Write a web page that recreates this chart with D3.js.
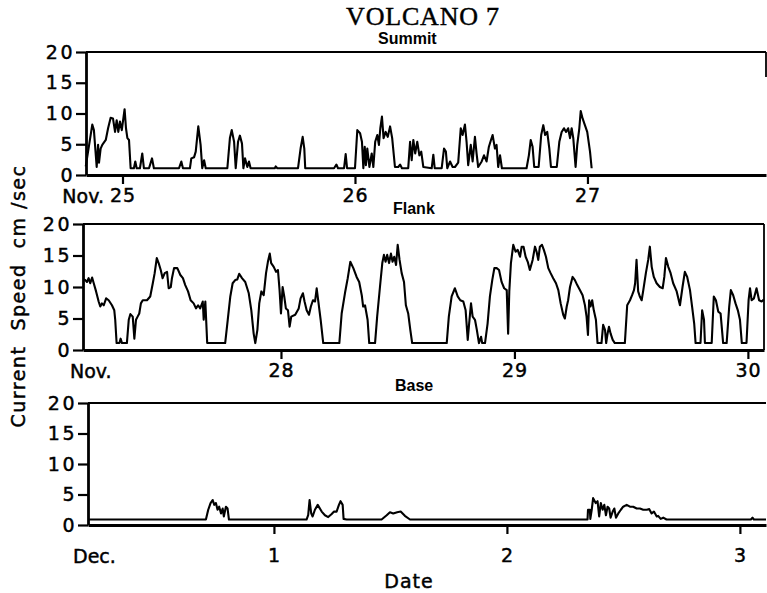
<!DOCTYPE html>
<html><head><meta charset="utf-8">
<script src="https://cdn.jsdelivr.net/npm/d3@7"></script>
<style>body{margin:0;background:#fff} svg{display:block}</style>
</head><body>
<svg id="c" width="767" height="593"></svg>
<script>
// Day of month (fractional) vs current speed (cm/sec)
const summit = [[24.842,1.4],[24.870,8.2],[24.877,7.3],[24.889,1.3],[24.895,4.9],[24.899,2.0],[24.906,4.3],[24.913,4.9],[24.928,5.7],[24.938,7.6],[24.949,9.3],[24.959,9.2],[24.968,7.0],[24.975,8.9],[24.982,7.0],[24.989,8.7],[24.997,7.3],[25.009,10.7],[25.015,7.6],[25.021,6.0],[25.028,5.7],[25.035,1.1],[25.049,1.1],[25.055,2.2],[25.061,1.1],[25.075,1.1],[25.085,3.5],[25.092,1.1],[25.114,1.1],[25.127,2.7],[25.135,1.1],[25.243,1.1],[25.253,2.2],[25.260,1.1],[25.290,1.1],[25.296,2.7],[25.308,2.9],[25.315,3.8],[25.326,7.9],[25.336,4.9],[25.343,1.1],[25.351,2.4],[25.358,1.1],[25.451,1.1],[25.462,6.0],[25.470,7.3],[25.480,5.4],[25.487,1.1],[25.497,5.4],[25.505,6.4],[25.514,5.1],[25.520,1.1],[25.527,2.7],[25.537,1.3],[25.544,2.2],[25.551,1.1],[25.655,1.1],[25.659,1.4],[25.666,1.1],[25.755,1.1],[25.766,4.3],[25.775,6.2],[25.782,4.3],[25.786,1.1],[25.910,1.1],[25.920,1.7],[25.927,1.1],[25.953,1.1],[25.960,3.4],[25.966,1.1],[26.000,1.1],[26.010,7.3],[26.022,6.8],[26.030,5.4],[26.036,1.1],[26.042,4.6],[26.047,1.6],[26.053,4.3],[26.062,1.3],[26.072,3.5],[26.079,1.3],[26.087,5.4],[26.096,6.5],[26.103,4.9],[26.109,7.6],[26.116,9.5],[26.123,6.0],[26.132,7.0],[26.141,6.2],[26.151,7.9],[26.160,6.0],[26.172,1.3],[26.186,1.3],[26.194,1.7],[26.202,1.1],[26.229,1.1],[26.237,5.4],[26.244,2.4],[26.251,5.7],[26.259,3.5],[26.268,5.4],[26.277,3.2],[26.285,3.8],[26.294,1.3],[26.330,1.1],[26.337,3.3],[26.343,1.1],[26.373,1.1],[26.383,4.3],[26.391,3.8],[26.397,1.1],[26.409,2.2],[26.420,1.3],[26.430,1.3],[26.444,2.0],[26.455,7.6],[26.463,6.5],[26.473,8.2],[26.480,5.4],[26.487,1.6],[26.498,4.9],[26.506,2.2],[26.516,6.2],[26.523,3.5],[26.530,1.3],[26.545,2.2],[26.555,3.2],[26.566,2.2],[26.576,4.6],[26.585,5.7],[26.592,6.5],[26.602,4.3],[26.609,4.9],[26.616,1.3],[26.624,3.2],[26.632,1.1],[26.738,1.1],[26.748,3.2],[26.756,5.7],[26.764,4.6],[26.771,1.3],[26.790,1.3],[26.801,6.5],[26.810,8.1],[26.818,6.5],[26.827,7.0],[26.836,4.3],[26.843,1.3],[26.868,1.3],[26.879,5.4],[26.889,7.0],[26.899,7.6],[26.908,7.0],[26.917,7.6],[26.925,6.0],[26.932,7.6],[26.939,6.0],[26.949,1.3],[26.956,4.9],[26.965,7.6],[26.971,10.4],[26.979,9.2],[26.989,8.1],[26.999,7.0],[27.011,3.8],[27.018,1.1]];

const flank = [[27.153,11.2],[27.162,11.1],[27.169,10.8],[27.176,11.4],[27.183,10.6],[27.191,11.5],[27.198,10.6],[27.208,9.3],[27.219,7.7],[27.226,6.9],[27.233,7.4],[27.241,7.1],[27.251,8.2],[27.262,7.9],[27.276,7.1],[27.286,6.3],[27.290,4.8],[27.296,1.1],[27.308,1.1],[27.313,1.8],[27.319,1.1],[27.340,1.1],[27.348,4.8],[27.355,5.7],[27.365,5.3],[27.372,1.8],[27.379,4.8],[27.386,5.3],[27.393,5.8],[27.400,7.4],[27.408,7.9],[27.426,7.9],[27.440,8.5],[27.451,10.6],[27.459,12.2],[27.468,14.6],[27.476,13.8],[27.485,12.7],[27.493,11.4],[27.502,12.2],[27.512,12.4],[27.519,9.8],[27.528,10.0],[27.533,11.4],[27.542,13.0],[27.556,13.0],[27.569,11.9],[27.580,11.4],[27.590,10.3],[27.602,9.3],[27.613,7.9],[27.626,7.4],[27.636,6.6],[27.645,7.1],[27.654,6.6],[27.665,7.7],[27.669,4.8],[27.676,7.7],[27.684,1.1],[27.761,1.1],[27.772,4.8],[27.783,8.5],[27.793,10.6],[27.804,11.1],[27.813,11.2],[27.821,12.1],[27.833,11.4],[27.847,10.8],[27.862,9.0],[27.873,6.3],[27.883,2.6],[27.890,1.1],[27.899,3.2],[27.907,7.4],[27.916,9.3],[27.926,8.7],[27.936,12.2],[27.944,14.0],[27.952,15.3],[27.958,13.8],[27.969,13.2],[27.979,12.4],[27.987,12.7],[27.994,9.5],[28.000,5.8],[28.007,10.0],[28.014,8.5],[28.021,6.6],[28.030,6.3],[28.037,3.7],[28.044,5.3],[28.061,5.6],[28.076,6.6],[28.084,8.2],[28.094,9.0],[28.101,7.7],[28.110,6.3],[28.120,5.6],[28.128,6.9],[28.137,7.9],[28.146,7.7],[28.153,9.8],[28.160,7.7],[28.170,4.8],[28.181,1.1],[28.250,1.1],[28.260,5.8],[28.274,9.0],[28.286,11.4],[28.297,14.0],[28.310,13.0],[28.324,11.6],[28.335,10.8],[28.346,8.7],[28.352,6.9],[28.360,7.1],[28.371,4.8],[28.378,1.1],[28.403,1.1],[28.412,5.3],[28.424,10.0],[28.434,13.8],[28.441,15.1],[28.448,14.0],[28.455,15.1],[28.463,13.8],[28.471,15.3],[28.478,14.0],[28.485,14.8],[28.493,13.5],[28.500,16.7],[28.508,14.3],[28.517,12.2],[28.527,10.8],[28.535,7.1],[28.545,5.8],[28.554,3.2],[28.562,1.1],[28.710,1.1],[28.719,5.3],[28.731,8.5],[28.745,9.8],[28.757,8.5],[28.768,7.9],[28.781,7.7],[28.791,6.3],[28.800,1.6],[28.806,4.2],[28.814,7.4],[28.821,5.3],[28.831,4.8],[28.839,3.2],[28.848,1.1],[28.857,2.1],[28.862,1.1],[28.874,1.1],[28.885,4.2],[28.895,8.5],[28.905,11.1],[28.914,13.0],[28.924,13.0],[28.934,12.7],[28.945,10.8],[28.956,9.8],[28.967,9.5],[28.973,2.6],[28.978,9.3],[28.985,13.8],[28.995,16.7],[29.005,15.6],[29.014,15.9],[29.024,14.8],[29.031,16.4],[29.039,16.4],[29.048,14.8],[29.057,14.0],[29.066,12.7],[29.078,14.3],[29.088,16.4],[29.095,15.6],[29.102,14.3],[29.109,16.4],[29.118,16.7],[29.126,15.9],[29.135,14.8],[29.145,13.0],[29.155,12.2],[29.166,11.4],[29.178,10.6],[29.188,9.5],[29.198,7.4],[29.209,5.6],[29.216,5.0],[29.224,6.9],[29.230,7.9],[29.238,10.0],[29.249,11.6],[29.259,11.1],[29.269,10.3],[29.281,9.5],[29.292,8.7],[29.302,7.1],[29.309,5.3],[29.315,2.4],[29.320,7.9],[29.326,6.9],[29.333,7.9],[29.340,6.3],[29.349,4.8],[29.356,1.1],[29.373,1.1],[29.380,4.0],[29.388,3.2],[29.393,1.1],[29.399,2.6],[29.405,3.7],[29.412,2.6],[29.421,1.6],[29.430,1.1],[29.473,1.1],[29.483,7.1],[29.495,7.9],[29.504,8.7],[29.512,9.5],[29.517,10.6],[29.523,14.3],[29.530,9.3],[29.537,8.5],[29.545,7.9],[29.552,9.5],[29.563,12.2],[29.573,14.3],[29.580,16.4],[29.588,13.2],[29.597,11.6],[29.609,10.6],[29.623,10.0],[29.635,9.8],[29.642,11.6],[29.649,14.6],[29.659,13.2],[29.669,12.2],[29.680,10.6],[29.695,9.3],[29.709,7.1],[29.720,10.0],[29.730,12.4],[29.740,11.6],[29.752,9.5],[29.761,6.9],[29.770,4.2],[29.776,1.1],[29.797,1.1],[29.804,6.3],[29.812,4.8],[29.816,1.1],[29.845,1.1],[29.854,8.5],[29.863,7.9],[29.873,6.1],[29.883,5.8],[29.894,1.1],[29.909,1.1],[29.920,6.9],[29.927,9.5],[29.937,8.7],[29.947,7.4],[29.957,6.3],[29.966,4.8],[29.974,1.1],[29.994,1.1],[30.003,7.9],[30.009,9.8],[30.016,7.9],[30.026,8.2],[30.037,9.8],[30.048,7.9],[30.059,7.7],[30.068,8.0]];

// Base: day of December
const base = [[0.202,0.9],[0.708,0.9],[0.718,2.5],[0.728,3.6],[0.737,4.1],[0.744,3.3],[0.751,3.6],[0.758,2.5],[0.765,3.0],[0.773,1.9],[0.780,2.7],[0.785,1.4],[0.794,3.0],[0.801,2.7],[0.807,0.9],[1.140,0.9],[1.147,1.6],[1.153,4.1],[1.160,1.9],[1.166,1.4],[1.176,2.5],[1.188,3.3],[1.205,2.2],[1.219,1.6],[1.233,1.3],[1.248,1.8],[1.258,2.2],[1.269,2.2],[1.279,3.3],[1.286,3.9],[1.295,3.3],[1.299,1.0],[1.312,0.9],[1.462,0.9],[1.484,1.6],[1.498,2.1],[1.512,1.9],[1.529,2.1],[1.544,2.2],[1.562,1.5],[1.584,0.9],[2.346,0.9],[2.348,2.5],[2.356,2.5],[2.358,1.0],[2.364,2.5],[2.370,4.4],[2.381,3.6],[2.389,3.9],[2.396,1.4],[2.403,3.6],[2.411,2.5],[2.418,3.3],[2.425,1.6],[2.432,3.0],[2.439,2.7],[2.445,1.2],[2.454,2.2],[2.461,2.7],[2.468,1.2],[2.478,1.9],[2.489,2.5],[2.499,3.0],[2.514,3.3],[2.528,3.0],[2.542,3.0],[2.557,2.7],[2.571,2.7],[2.585,2.5],[2.600,2.5],[2.611,2.6],[2.621,1.9],[2.631,2.2],[2.643,1.4],[2.649,1.5],[2.660,1.0],[2.671,1.2],[2.685,0.9],[3.047,0.9],[3.054,1.2],[3.060,0.9],[3.112,0.9]];

const speedTicks = [0, 5, 10, 15, 20];
const summitTicks = [25, 26, 27];
const flankTicks = [28, 29, 30];
const baseTicks = [1, 2, 3];
const panelTitles = ["Summit", "Flank", "Base"];
const monthLabels = ["Nov.", "Nov.", "Dec."];
const chartTitle = "VOLCANO 7";
const yTitle = "Current  Speed  cm /sec";
const xTitle = "Date";

const panels = [
  {series: summit, ticks: summitTicks, dom: [24.843, 27.768], x0: 86, x1: 766, top: 52, bot: 175, labOff: 28, monthX: 104, monthAnchor: "end", titleX: 378, titleY: 44, right: 77},
  {series: flank, ticks: flankTicks, dom: [27.152, 30.069], x0: 83, x1: 764, top: 224, bot: 350, labOff: 28, monthX: 70, monthAnchor: "start", titleX: 393, titleY: 214, right: 350},
  {series: base, ticks: baseTicks, dom: [0.202, 3.112], x0: 88, x1: 766, top: 403, bot: 525, labOff: 38, monthX: 73, monthAnchor: "start", titleX: 395, titleY: 391, right: null}
];

const svg = d3.select("#c");
const tickFont = "DejaVu Sans, sans-serif";
const ink = sel => sel.attr("fill", "#000").attr("stroke", "#000").attr("stroke-width", 0.45);

svg.append("text").attr("x", 423).attr("y", 25).attr("text-anchor", "middle")
  .attr("font-family", "Liberation Serif, serif").attr("font-size", 26)
  .attr("letter-spacing", 0.8).call(ink).text(chartTitle);

panels.forEach((p, i) => {
  const x = d3.scaleLinear().domain(p.dom).range([p.x0, p.x1]);
  const y = d3.scaleLinear().domain([0, 20]).range([p.bot, p.top]);
  const g = svg.append("g");

  // top border
  g.append("line").attr("x1", p.x0).attr("x2", p.x1).attr("y1", p.top).attr("y2", p.top)
    .attr("stroke", "#000").attr("stroke-width", 2.2);
  if (p.right !== null) {
    g.append("line").attr("x1", p.x1).attr("x2", p.x1).attr("y1", p.top).attr("y2", p.right)
      .attr("stroke", "#000").attr("stroke-width", 1.8);
  }

  // y axis
  const ya = g.append("g").attr("transform", `translate(${p.x0},0)`)
    .call(d3.axisLeft(y).tickValues(speedTicks).tickSize(10).tickSizeOuter(0).tickPadding(1));
  ya.select(".domain").attr("stroke-width", 2.8);
  ya.selectAll(".tick line").attr("stroke-width", 2.2);
  ya.selectAll("text").attr("font-family", tickFont).attr("font-size", 19)
    .attr("letter-spacing", 2.5).call(ink);

  // x axis
  const xa = g.append("g").attr("transform", `translate(0,${p.bot})`)
    .call(d3.axisBottom(x).tickValues(p.ticks).tickFormat(d => d).tickSize(9).tickSizeOuter(0).tickPadding(p.labOff - 23));
  xa.select(".domain").attr("stroke-width", 3.2);
  xa.selectAll(".tick line").attr("stroke-width", 2.2);
  xa.selectAll("text").attr("font-family", tickFont).attr("font-size", 19).attr("letter-spacing", 0.8).call(ink);

  g.append("text").attr("x", p.monthX).attr("y", p.bot + p.labOff)
    .attr("text-anchor", p.monthAnchor).attr("font-family", tickFont).attr("font-size", 19)
    .call(ink).text(monthLabels[i]);

  g.append("text").attr("x", p.titleX).attr("y", p.titleY)
    .attr("font-family", "Liberation Sans, Arial, sans-serif").attr("font-weight", "bold")
    .attr("font-size", 16).text(panelTitles[i]);

  const line = d3.line().x(d => x(d[0])).y(d => y(d[1]));
  g.append("path").datum(p.series).attr("d", line).attr("fill", "none")
    .attr("stroke", "#000").attr("stroke-width", 2.1).attr("stroke-linejoin", "round");
});

svg.append("text").attr("transform", "translate(25,296) rotate(-90)")
  .attr("text-anchor", "middle").attr("font-family", tickFont).attr("font-size", 19)
  .attr("letter-spacing", 1.5).style("white-space", "pre").call(ink).text(yTitle);

svg.append("text").attr("x", 409).attr("y", 588).attr("text-anchor", "middle")
  .attr("font-family", tickFont).attr("font-size", 19).attr("letter-spacing", 1).call(ink).text(xTitle);
</script>
</body></html>
